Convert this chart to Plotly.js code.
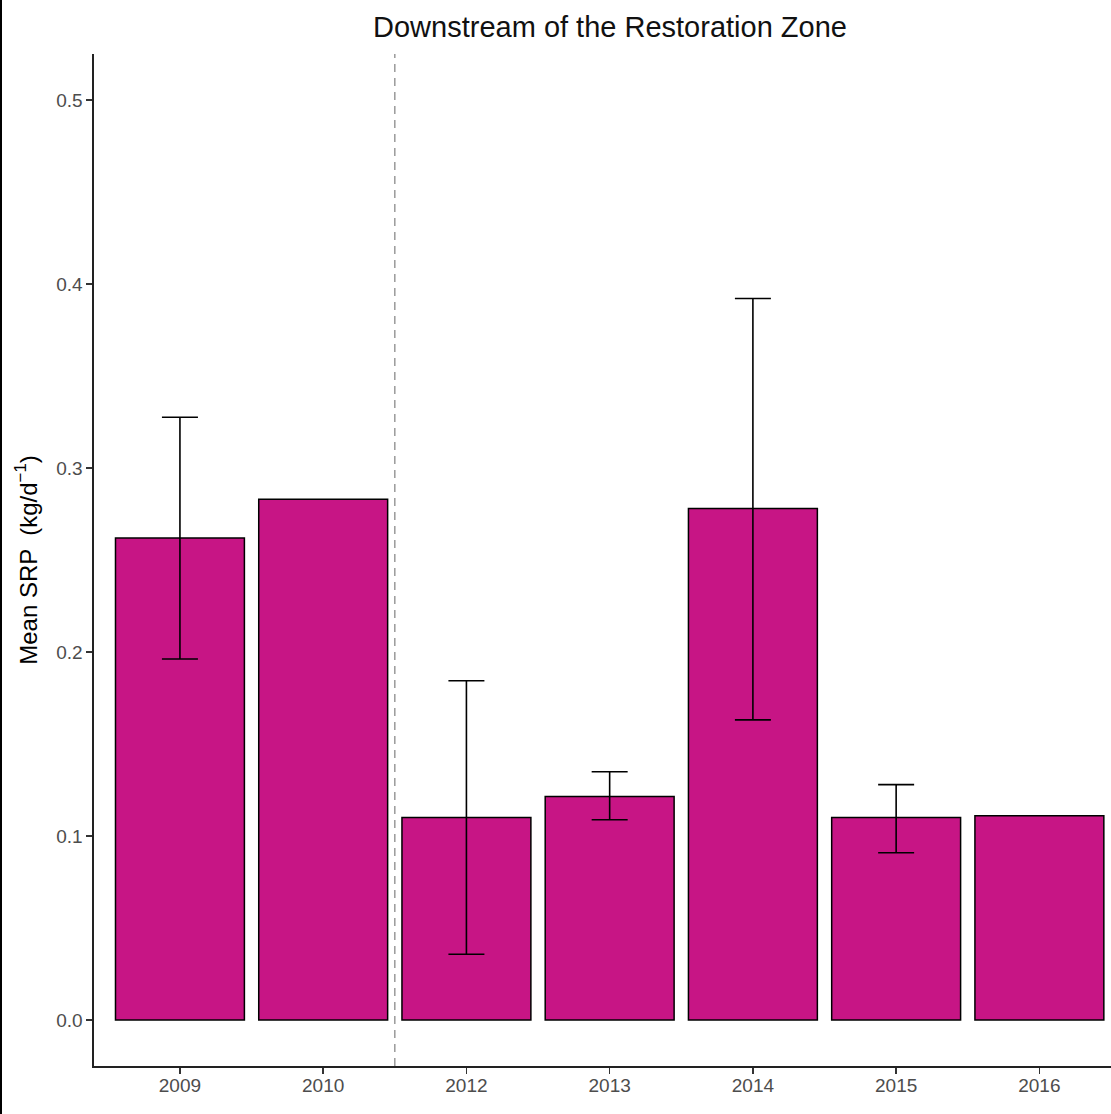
<!DOCTYPE html>
<html>
<head>
<meta charset="utf-8">
<script src="https://cdn.plot.ly/plotly-3.0.1.min.js"></script>
<style>
  html, body { margin: 0; padding: 0; background: #fff; overflow: hidden; }
  #wrap { position: relative; width: 1111px; height: 1114px; }
  #edge { position: absolute; left: 0; top: 0; width: 2px; height: 1114px; background: #000; z-index: 5; }
  #chart { position: absolute; left: 0; top: 0; width: 1111px; height: 1114px; }
</style>
</head>
<body>
<div id="wrap">
  <div id="chart"></div>
  <div id="edge"></div>
</div>
<script>
// Mean soluble reactive phosphorus load per year, downstream of the restoration zone
const years = ['2009', '2010', '2012', '2013', '2014', '2015', '2016'];
const meanSRP = [0.262, 0.283, 0.110, 0.1215, 0.278, 0.110, 0.111];
// Upper / lower error bar lengths (null where no error bar is shown)
const errUp   = [0.0656, null, 0.0744, 0.0134, 0.1141, 0.0179, null];
const errDown = [0.0658, null, 0.0743, 0.0127, 0.1149, 0.0191, null];
// Restoration happened between these two sampling years
const restorationAfter = '2010';

const barTrace = {
  type: 'bar',
  x: years,
  y: meanSRP,
  width: 0.9,
  marker: { color: '#C71585', line: { color: '#000000', width: 1.5 } },
  hoverinfo: 'x+y'
};

// Error bars only for the years that have them
const withErr = years.map((_, i) => i).filter(i => errUp[i] !== null);
const errTrace = {
  type: 'scatter',
  mode: 'markers',
  x: withErr.map(i => years[i]),
  y: withErr.map(i => meanSRP[i]),
  marker: { size: 1, opacity: 0 },
  error_y: {
    type: 'data',
    symmetric: false,
    array: withErr.map(i => errUp[i]),
    arrayminus: withErr.map(i => errDown[i]),
    color: '#000000',
    thickness: 1.6,
    width: 18
  },
  hoverinfo: 'skip'
};

const splitPos = years.indexOf(restorationAfter) + 0.5;

const axisFont = { family: 'Liberation Sans, Arial, sans-serif', size: 19, color: '#4d4d4d' };

const layout = {
  width: 1111,
  height: 1114,
  margin: { l: 94, r: 0, t: 54, b: 48, pad: 0 },
  paper_bgcolor: '#ffffff',
  plot_bgcolor: '#ffffff',
  showlegend: false,
  font: { family: 'Liberation Sans, Arial, sans-serif' },
  title: {
    text: 'Downstream of the Restoration Zone',
    font: { family: 'Liberation Sans, Arial, sans-serif', size: 29, color: '#111111' },
    x: 610 / 1111,
    xref: 'container',
    xanchor: 'center',
    y: 1 - 27 / 1114,
    yref: 'container',
    yanchor: 'middle'
  },
  xaxis: {
    type: 'category',
    range: [-0.6, 6.5],
    showline: true,
    linecolor: '#222222',
    linewidth: 1.6,
    ticks: 'outside',
    ticklen: 6,
    tickwidth: 1.5,
    tickcolor: '#333333',
    tickfont: axisFont,
    ticklabelstandoff: -4,
    showgrid: false,
    zeroline: false,
    fixedrange: true
  },
  yaxis: {
    range: [-0.025, 0.525],
    tickvals: [0, 0.1, 0.2, 0.3, 0.4, 0.5],
    ticktext: ['0.0', '0.1', '0.2', '0.3', '0.4', '0.5'],
    showline: true,
    linecolor: '#222222',
    linewidth: 1.6,
    ticks: 'outside',
    ticklen: 6,
    tickwidth: 1.5,
    tickcolor: '#333333',
    tickfont: axisFont,
    showgrid: false,
    zeroline: false,
    fixedrange: true,
    title: {
      text: 'Mean SRP \u00a0(kg/d<sup>\u22121</sup>)',
      font: { family: 'Liberation Sans, Arial, sans-serif', size: 24, color: '#000000' },
      standoff: 12
    }
  },
  shapes: [{
    type: 'line',
    xref: 'x',
    yref: 'paper',
    x0: splitPos,
    x1: splitPos,
    y0: 0,
    y1: 1,
    layer: 'below',
    line: { color: '#9a9a9a', width: 1.5, dash: '8px,6px' }
  }]
};

Plotly.newPlot('chart', [barTrace, errTrace], layout, { displayModeBar: false, staticPlot: true });
</script>
</body>
</html>
